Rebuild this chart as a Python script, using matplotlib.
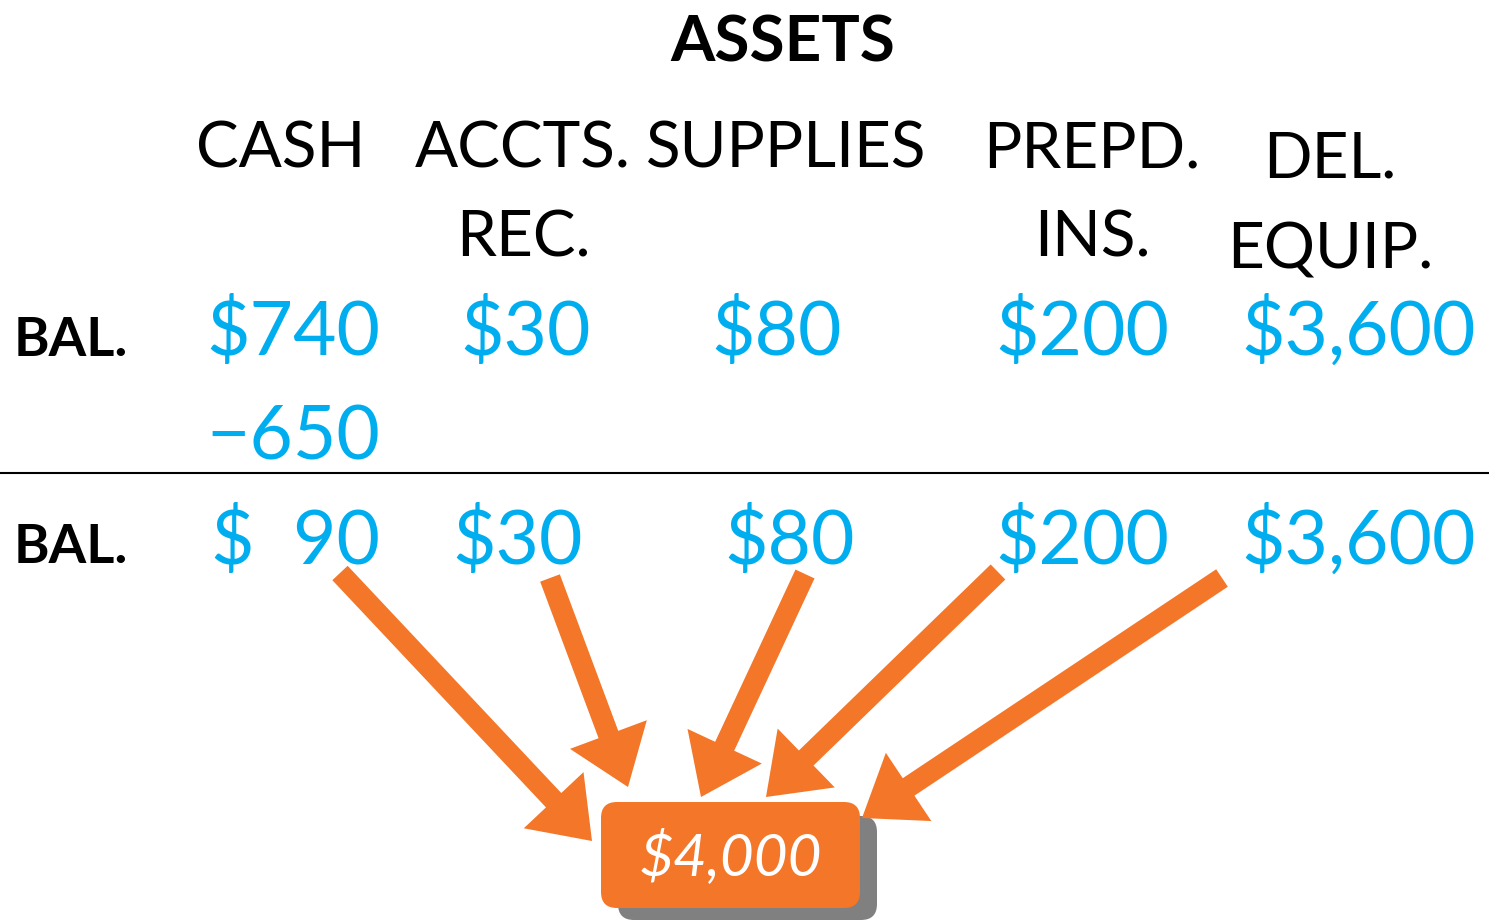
import matplotlib
matplotlib.use("Agg")
import matplotlib.pyplot as plt
from matplotlib.patches import FancyArrow, FancyBboxPatch

# accounts and balances
headers = [["CASH"], ["ACCTS.", "REC."], ["SUPPLIES"], ["PREPD.", "INS."], ["DEL.", "EQUIP."]]
bal_before = [740, 30, 80, 200, 3600]
cash_paid = -650
bal_after = [bal_before[0] + cash_paid] + bal_before[1:]
total = sum(bal_after)

BLUE = "#00AEEF"
ORANGE = "#F37629"
FONT = "Lato"

W, H = 1489, 921
fig = plt.figure(figsize=(W / 100, H / 100), dpi=100)
ax = fig.add_axes([0, 0, 1, 1])
ax.set_xlim(0, W)
ax.set_ylim(H, 0)
ax.axis("off")

# layout (pixel positions)
head_x = [281, 523, 786, 1092, 1330]
head_y = [[167], [167, 256], [167], [167, 256], [178, 268]]
row1_x = [380, 526, 777, 1082, 1359]
row2_x = [380, 518, 790, 1082, 1359]

ax.text(783, 62, "ASSETS", ha="center", va="baseline", fontsize=46,
        fontweight="bold", family=FONT)

for i, lines in enumerate(headers):
    for line, y in zip(lines, head_y[i]):
        ax.text(head_x[i], y, line, ha="center", va="baseline", fontsize=46, family=FONT)

ax.text(14, 356, "BAL.", ha="left", va="baseline", fontsize=39, fontweight="bold", family=FONT)
ax.text(14, 563, "BAL.", ha="left", va="baseline", fontsize=39, fontweight="bold", family=FONT)

for i, v in enumerate(bal_before):
    ax.text(row1_x[i], 355, f"${v:,}", ha="right" if i == 0 else "center",
            va="baseline", fontsize=54, color=BLUE, family=FONT)
ax.text(row1_x[0], 459, f"\u2212{abs(cash_paid)}", ha="right", va="baseline",
        fontsize=54, color=BLUE, family=[FONT, "DejaVu Sans"])

ax.plot([0, W], [473, 473], color="black", lw=1.5)

for i, v in enumerate(bal_after):
    s = f"$  {v:,}" if i == 0 else f"${v:,}"
    ax.text(row2_x[i], 564, s, ha="right" if i == 0 else "center",
            va="baseline", fontsize=54, color=BLUE, family=FONT)

# total box with shadow
ax.add_patch(FancyBboxPatch((618, 816), 259, 104, boxstyle="round,pad=0,rounding_size=16",
                            fc="#808080", ec="none", zorder=2))
ax.add_patch(FancyBboxPatch((601, 802), 259, 106, boxstyle="round,pad=0,rounding_size=16",
                            fc=ORANGE, ec="none", zorder=3))
ax.text(731, 857, f"${total:,}", ha="center", va="center", fontsize=42, color="white",
        style="italic", family=FONT, zorder=4)

# arrows from each balance to the total
starts = [(340, 573), (550, 578), (805, 574), (998, 572), (1222, 578)]
tips = [(592, 841), (628, 787), (701, 797), (766, 797), (862, 818)]
for (x0, y0), (x1, y1) in zip(starts, tips):
    ax.add_patch(FancyArrow(x0, y0, x1 - x0, y1 - y0, width=21, head_width=82,
                            head_length=56, length_includes_head=True,
                            fc=ORANGE, ec="none", zorder=3))

fig.savefig("out.png", dpi=100)
